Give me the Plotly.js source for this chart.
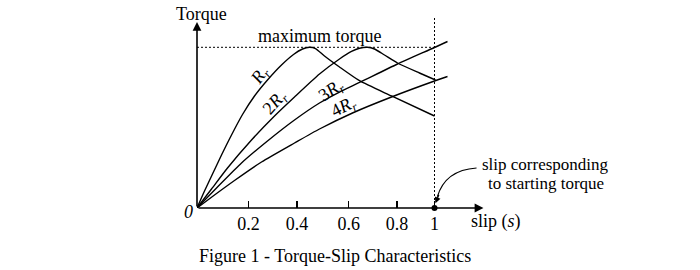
<!DOCTYPE html>
<html>
<head>
<meta charset="utf-8">
<script src="https://cdn.plot.ly/plotly-3.0.1.min.js"></script>
<style>html,body{margin:0;padding:0;background:#fff;}#chart{width:700px;height:270px;}</style>
</head>
<body>
<div id="chart"></div>
<script>
// Slip (as drawn, 1 = standstill) and torque (1 = maximum torque)
const slipR1 = [0, 0.0316, 0.0653, 0.1032, 0.1453, 0.1916, 0.2421, 0.2968, 0.3558, 0.4063, 0.4442, 0.4737, 0.4989, 0.5368, 0.6, 0.6842, 0.8189, 1.0];
const torqueR1 = [0, 0.1058, 0.2116, 0.3298, 0.4543, 0.5818, 0.6969, 0.7965, 0.8899, 0.9552, 0.9894, 1.0, 0.9925, 0.9459, 0.8774, 0.7922, 0.6970, 0.5725];

const slipR2 = [0, 0.0611, 0.1284, 0.2295, 0.3263, 0.4105, 0.5158, 0.6, 0.6505, 0.6842, 0.7179, 0.7474, 0.7895, 0.8442, 0.9368, 1.0042];
const torqueR2 = [0, 0.1182, 0.2489, 0.4231, 0.5725, 0.6907, 0.8338, 0.9272, 0.9739, 0.9938, 1.0, 0.9894, 0.9521, 0.9023, 0.8401, 0.7965];

const slipR3 = [0, 0.0863, 0.1874, 0.2968, 0.4105, 0.5158, 0.6, 0.6842, 0.8442, 1.0, 1.0547];
const torqueR3 = [0, 0.1307, 0.2800, 0.4169, 0.5476, 0.6534, 0.7218, 0.7810, 0.8961, 0.9988, 1.0361];

const slipR4 = [0, 0.0737, 0.1579, 0.2716, 0.4105, 0.5158, 0.6547, 0.8189, 1.0, 1.0547];
const torqueR4 = [0, 0.0809, 0.1711, 0.2862, 0.4045, 0.4916, 0.5912, 0.6907, 0.7903, 0.8183];

const tickPositions = [0.2168, 0.4211, 0.6392, 0.8421, 1.0];
const tickLabels = ['0.2', '0.4', '0.6', '0.8', '1'];

const curveLabels = ['<i>R<sub>r</sub></i>', '2<i>R<sub>r</sub></i>', '3<i>R<sub>r</sub></i>', '4<i>R<sub>r</sub></i>'];
const curveLabelAngles = [-55, -48, -35, -27];
const maxTorque = 1.0;
const startingSlip = 1.0;

const FONT = 'Liberation Serif';
const lineStyle = {color: '#000', width: 1.4, shape: 'spline', smoothing: 0.6};

function curve(x, y) {
  return {x: x, y: y, type: 'scatter', mode: 'lines', line: lineStyle, hoverinfo: 'skip', showlegend: false};
}

const data = [
  curve(slipR1, torqueR1),
  curve(slipR2, torqueR2),
  curve(slipR3, torqueR3),
  curve(slipR4, torqueR4),
  {x: [startingSlip], y: [0], type: 'scatter', mode: 'markers', marker: {color: '#000', size: 6}, cliponaxis: false, showlegend: false, hoverinfo: 'skip'}
];

function txt(x, y, text, extra) {
  return Object.assign({x: x, y: y, xref: 'x', yref: 'y', text: text, showarrow: false,
    xanchor: 'center', yanchor: 'middle',
    font: {family: FONT, size: 18, color: '#000'}}, extra || {});
}
function ptxt(x, y, text, extra) {
  return Object.assign(txt(x, y, text), {xref: 'paper', yref: 'paper'}, extra || {});
}
const labelFont = {family: FONT, size: 18, color: '#000'};
const noteFont = {family: FONT, size: 17, color: '#000'};

const annotations = [
  // axes with arrowheads
  {x: 1.206, y: 0, ax: 0, ay: 0, xref: 'x', yref: 'y', axref: 'x', ayref: 'y', text: '', showarrow: true,
   arrowhead: 2, arrowsize: 1.1, arrowwidth: 1.6, arrowcolor: '#000'},
  {x: 0, y: 1.157, ax: 0, ay: 0, xref: 'x', yref: 'y', axref: 'x', ayref: 'y', text: '', showarrow: true,
   arrowhead: 2, arrowsize: 1.1, arrowwidth: 1.6, arrowcolor: '#000'},
  ptxt(0.0141, 1.005, 'Torque'),
  txt(0.5158, 1.072, 'maximum torque'),
  ptxt(-0.0298, -0.0233, '<i>0</i>'),
  ptxt(1.0435, -0.0674, 'slip (<i>s</i>)'),
  ptxt(1.216, 0.2254, 'slip corresponding', {font: noteFont}),
  ptxt(1.216, 0.1244, 'to starting torque', {font: noteFont}),
  ptxt(0.4825, -0.2487, 'Figure 1 - Torque-Slip Characteristics'),
  txt(0.2653, 0.8183, curveLabels[0], {textangle: curveLabelAngles[0], font: labelFont}),
  txt(0.3284, 0.6503, curveLabels[1], {textangle: curveLabelAngles[1], font: labelFont}),
  txt(0.5642, 0.7249, curveLabels[2], {textangle: curveLabelAngles[2], font: labelFont}),
  txt(0.6189, 0.6285, curveLabels[3], {textangle: curveLabelAngles[3], font: labelFont}),
  // arrowhead of the curved pointer
  {x: 1.004, y: 0.03, xref: 'x', yref: 'y', ax: 4, ay: -10, text: '', showarrow: true,
   arrowhead: 2, arrowsize: 1, arrowwidth: 1.2, arrowcolor: '#000'}
];

const shapes = [
  {type: 'line', xref: 'x', yref: 'y', x0: 0, x1: startingSlip, y0: maxTorque, y1: maxTorque,
   line: {color: '#000', width: 1, dash: '2px,2px'}},
  {type: 'line', xref: 'x', yref: 'y', x0: startingSlip, x1: startingSlip, y0: 0, y1: 1.185,
   line: {color: '#000', width: 1, dash: '2px,2px'}},
  {type: 'path', xref: 'x', yref: 'y', path: 'M1.177,0.249 Q1.045,0.236 1.012,0.07',
   line: {color: '#000', width: 1.2}}
];

const layout = {
  width: 700, height: 270,
  margin: {l: 197, r: 216, t: 15, b: 62, pad: 0},
  paper_bgcolor: '#fff', plot_bgcolor: '#fff',
  showlegend: false,
  xaxis: {range: [0, 1.2084], showgrid: false, zeroline: false, showline: false, automargin: false,
    tickmode: 'array', tickvals: tickPositions, ticktext: tickLabels,
    ticks: 'inside', ticklen: 7, tickwidth: 1.2, tickcolor: '#000', ticklabelstandoff: 3,
    tickfont: {family: FONT, size: 18, color: '#000'}, fixedrange: true},
  yaxis: {range: [0, 1.201], showgrid: false, zeroline: false, showline: false, automargin: false,
    showticklabels: false, ticks: '', fixedrange: true},
  annotations: annotations,
  shapes: shapes
};

Plotly.newPlot('chart', data, layout, {staticPlot: true, displayModeBar: false});
</script>
</body>
</html>
